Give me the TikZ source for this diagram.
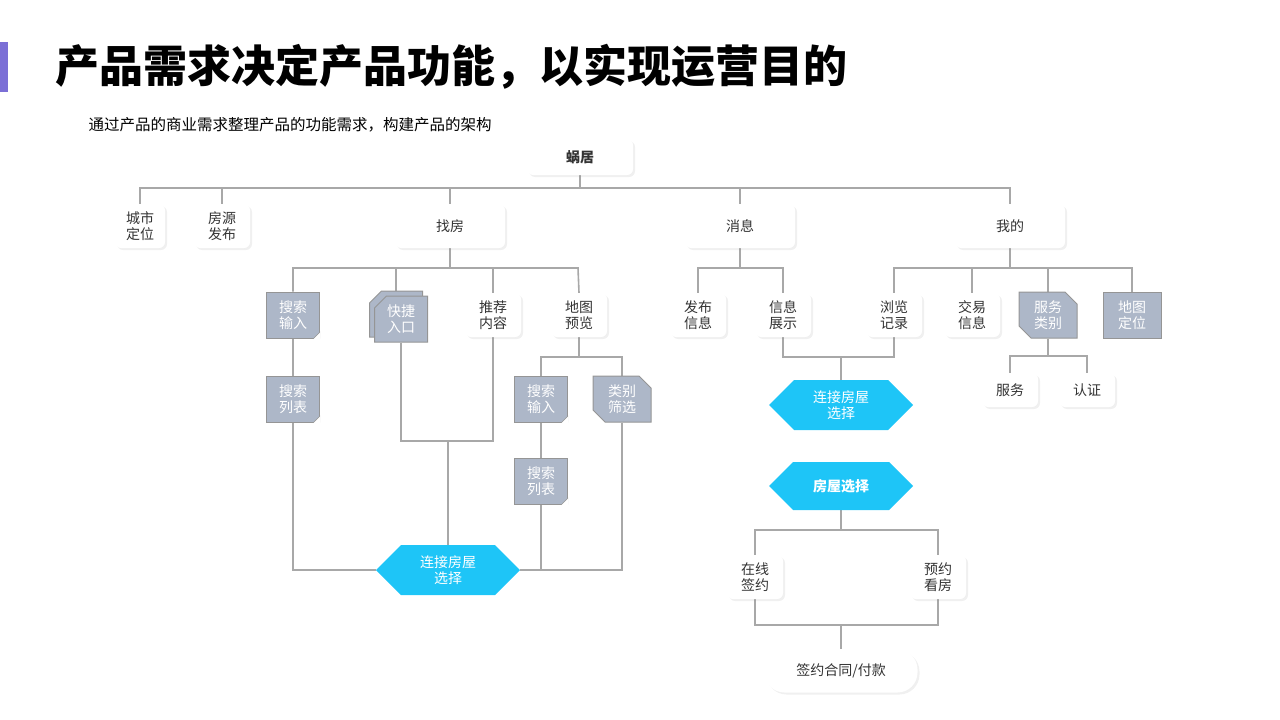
\documentclass[tikz,border=0pt]{standalone}
\usepackage{fontspec}
\setmainfont{Noto Sans CJK SC}
\usetikzlibrary{shapes.misc,shapes.symbols,shadows,backgrounds}
\definecolor{ln}{HTML}{A8A8A8}
\definecolor{gf}{HTML}{ADB7C8}
\definecolor{gb}{HTML}{959595}
\definecolor{cy}{HTML}{1EC5F7}
\definecolor{pu}{HTML}{7B6FD6}
\begin{document}
\begin{tikzpicture}[x=1pt,y=-1pt,
  txt/.style={font=\fontsize{14}{16.5}\selectfont,align=center,text=black!80},
  wb/.style={txt,fill=white,rounded corners=6pt,minimum width=56pt,minimum height=44pt,drop shadow={opacity=0.12,shadow xshift=2pt,shadow yshift=-2pt}},
  gn/.style={txt,text=white,fill=gf,draw=gb,line width=1pt,minimum width=53pt,minimum height=46pt,inner sep=1pt},
  ch/.style={gn,chamfered rectangle,chamfered rectangle xsep=6pt,chamfered rectangle ysep=6pt,chamfered rectangle corners={north east,south west}},
  hx/.style={txt,text=white,fill=cy,signal,signal to=east and west,minimum width=144pt,minimum height=50pt,inner sep=1pt},
  ln/.style={draw=ln,line width=1.6pt}]
\useasboundingbox (0,0) rectangle (1280,720);
\fill[pu] (0,42) rectangle (8,92);
\node[anchor=west,font=\fontsize{44}{48}\selectfont\bfseries] (title) at (52,67) {产品需求决定产品功能，以实现运营目的};
\node[anchor=west,font=\fontsize{15.5}{18}\selectfont] (sub) at (85,125) {通过产品的商业需求整理产品的功能需求，构建产品的架构};

\node[wb,minimum width=106pt,minimum height=36pt,font=\fontsize{14}{16}\selectfont\bfseries] (wj) at (580,157) {蜗居};
\node[wb,minimum width=50pt] (cs) at (140,226) {城市\\定位};
\node[wb,minimum width=56pt] (fy) at (222,226) {房源\\发布};
\node[wb,minimum width=110pt] (zf) at (450,226) {找房};
\node[wb,minimum width=110pt] (xx) at (740,226) {消息};
\node[wb,minimum width=110pt] (wd) at (1010,226) {我的};

\node[gn] (ss1) at (293,315) {搜索\\输入};
\node[gn,chamfered rectangle,chamfered rectangle corners={north west},chamfered rectangle xsep=6pt,chamfered rectangle ysep=6pt] (kj0) at (396,314) {\phantom{快捷}\\\phantom{入口}};
\node[gn,chamfered rectangle,chamfered rectangle corners={north west},chamfered rectangle xsep=6pt,chamfered rectangle ysep=6pt] (kj) at (401,319) {快捷\\入口};
\node[wb] (tj) at (493,315) {推荐\\内容};
\node[wb] (dt) at (579,315) {地图\\预览};
\node[gn] (sl1) at (293,399) {搜索\\列表};
\node[gn] (ss2) at (541,399) {搜索\\输入};
\node[gn,chamfered rectangle,chamfered rectangle xsep=6pt,chamfered rectangle ysep=6pt,chamfered rectangle corners={north east,south west},minimum width=58pt] (lb) at (622,399) {类别\\筛选};
\node[gn] (sl2) at (541,481) {搜索\\列表};
\node[hx] (hx1) at (448,570) {连接房屋\\选择};

\node[wb] (fb) at (698,315) {发布\\信息};
\node[wb] (xs) at (783,315) {信息\\展示};
\node[wb] (ll) at (894,315) {浏览\\记录};
\node[wb] (jy) at (972,315) {交易\\信息};
\node[ch,minimum width=58pt] (fl) at (1048,315) {服务\\类别};
\node[gn,rounded corners=0pt,minimum width=58pt] (dw) at (1132,315) {地图\\定位};
\node[wb,minimum height=34pt] (fw) at (1010,390) {服务};
\node[wb,minimum height=34pt] (rz) at (1087,390) {认证};
\node[hx] (hx2) at (841,405) {连接房屋\\选择};
\node[hx,minimum height=48pt,font=\fontsize{14}{16}\selectfont\bfseries] (hx3) at (841,486) {房屋选择};
\node[wb] (zx) at (755,577) {在线\\签约};
\node[wb] (yy) at (938,577) {预约\\看房};
\node[wb,rounded corners=20pt,minimum width=153pt,minimum height=43pt] (ht) at (841,671) {签约合同/付款};

% dog ears
\foreach \n in {ss1,sl1,ss2,sl2}{
  \fill[gb] (\n.south east) -- ++(-7,0) -- ++(7,-7) -- cycle;
  \fill[white] (\n.south east) ++(0.5,0.5) -- ++(-7,0) -- ++(7,-7) -- cycle;}

\begin{scope}[on background layer]
\draw[ln] (wj.south) -- (580,188);
\draw[ln] (cs.north) |- (1010,188) -- (wd.north);
\draw[ln] (fy.north) -- (222,188);
\draw[ln] (zf.north) -- (450,188);
\draw[ln] (xx.north) -- (740,188);
\draw[ln] (zf.south) -- (450,268);
\draw[ln] (ss1.north) |- (578,268) -- (dt.north);
\draw[ln] (396,268) -- (kj0.north);
\draw[ln] (tj.north) -- (493,268);
\draw[ln] (ss1.south) -- (sl1.north);
\draw[ln] (sl1.south) |- (hx1.west);
\draw[ln] (kj.south) |- (493,441) -- (tj.south);
\draw[ln] (448,441) -- (hx1.north);
\draw[ln] (dt.south) -- (579,357);
\draw[ln] (ss2.north) |- (622,357) -- (lb.north);
\draw[ln] (ss2.south) -- (sl2.north);
\draw[ln] (sl2.south) -- (541,570);
\draw[ln] (lb.south) |- (hx1.east);
\draw[ln] (xx.south) -- (740,268);
\draw[ln] (fb.north) |- (783,268) -- (xs.north);
\draw[ln] (wd.south) -- (1010,268);
\draw[ln] (ll.north) |- (1132,268) -- (dw.north);
\draw[ln] (jy.north) -- (972,268);
\draw[ln] (fl.north) -- (1048,268);
\draw[ln] (xs.south) |- (894,357) -- (ll.south);
\draw[ln] (841,357) -- (hx2.north);
\draw[ln] (fl.south) -- (1048,356);
\draw[ln] (fw.north) |- (1087,356) -- (rz.north);
\draw[ln] (hx3.south) -- (841,530);
\draw[ln] (zx.north) |- (938,530) -- (yy.north);
\draw[ln] (zx.south) |- (938,625) -- (yy.south);
\draw[ln] (841,625) -- (ht.north);
\end{scope}
\end{tikzpicture}
\end{document}
